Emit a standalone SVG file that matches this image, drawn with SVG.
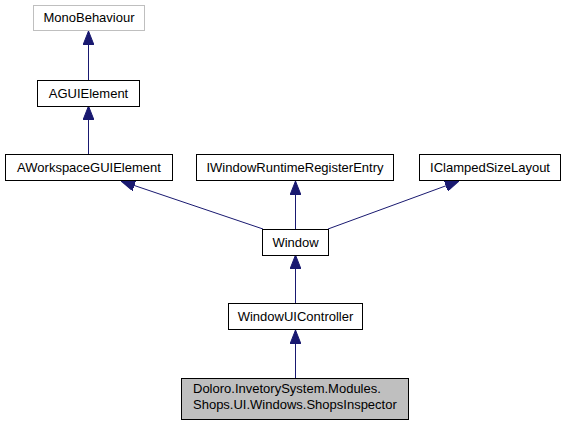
<svg xmlns="http://www.w3.org/2000/svg" width="566" height="425" viewBox="0 0 566 425">
<style>
  .box { fill: #ffffff; stroke: #000000; stroke-width: 1; }
  .ext { fill: #ffffff; stroke: #bfbfbf; stroke-width: 1; }
  .cur { fill: #bfbfbf; stroke: #000000; stroke-width: 1; }
  .lbl { font-family: "Liberation Sans", Arial, sans-serif; font-size: 13px; fill: #000000; }
  .mid { text-anchor: middle; }
  .edge { fill: none; stroke: #191970; stroke-width: 1; marker-end: url(#arrow); }
</style>
<defs>
  <marker id="arrow" markerUnits="userSpaceOnUse" markerWidth="14" markerHeight="11" refX="14" refY="5.5" orient="auto">
    <path d="M0,0 L14,5.5 L0,11 Z" fill="#191970" stroke="#191970" stroke-width="1"/>
  </marker>
</defs>
<rect width="566" height="425" fill="#ffffff"/>
<g id="connectors">
  <line class="edge" x1="88.5" y1="80" x2="88.5" y2="31"/>
  <line class="edge" x1="88.5" y1="154" x2="88.5" y2="106"/>
  <line class="edge" x1="263" y1="229" x2="121" y2="181"/>
  <line class="edge" x1="295.5" y1="229" x2="295.5" y2="181"/>
  <line class="edge" x1="328" y1="229" x2="459" y2="181"/>
  <line class="edge" x1="295.5" y1="303" x2="295.5" y2="255"/>
  <line class="edge" x1="295.5" y1="378" x2="295.5" y2="330"/>
</g>
<g id="MonoBehaviour">
  <rect class="ext" x="33.5" y="5.5" width="111" height="25"/>
  <text class="lbl mid" x="89" y="22">MonoBehaviour</text>
</g>
<g id="AGUIElement">
  <rect class="box" x="37.5" y="80.5" width="102" height="26"/>
  <text class="lbl mid" x="88.5" y="97.5">AGUIElement</text>
</g>
<g id="AWorkspaceGUIElement">
  <rect class="box" x="5.5" y="154.5" width="167" height="26"/>
  <text class="lbl mid" x="89" y="171.5">AWorkspaceGUIElement</text>
</g>
<g id="IWindowRuntimeRegisterEntry">
  <rect class="box" x="196.5" y="154.5" width="197" height="26"/>
  <text class="lbl mid" x="295" y="171.5">IWindowRuntimeRegisterEntry</text>
</g>
<g id="IClampedSizeLayout">
  <rect class="box" x="419.5" y="154.5" width="141" height="26"/>
  <text class="lbl mid" x="490" y="171.5">IClampedSizeLayout</text>
</g>
<g id="Window">
  <rect class="box" x="262.5" y="229.5" width="66" height="26"/>
  <text class="lbl mid" x="295.5" y="246.5">Window</text>
</g>
<g id="WindowUIController">
  <rect class="box" x="228.5" y="303.5" width="134" height="26"/>
  <text class="lbl mid" x="295.5" y="320.5">WindowUIController</text>
</g>
<g id="ShopsInspector">
  <rect class="cur" x="181.5" y="378.5" width="227" height="41"/>
  <text class="lbl" x="193" y="393">Doloro.InvetorySystem.Modules.</text>
  <text class="lbl" x="193" y="409">Shops.UI.Windows.ShopsInspector</text>
</g>
</svg>
